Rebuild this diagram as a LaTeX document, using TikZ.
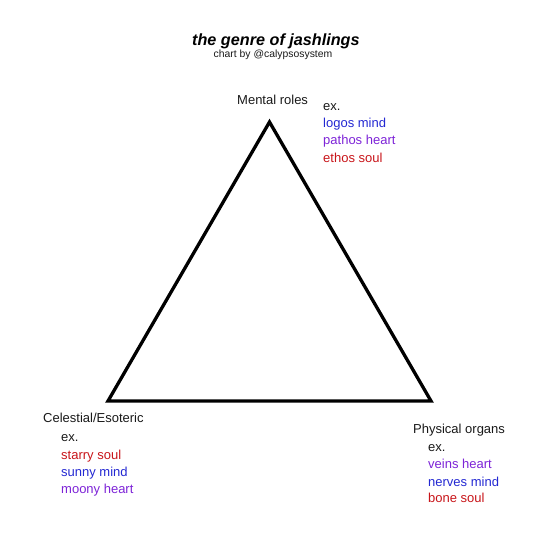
\documentclass[tikz,border=0pt]{standalone}
\usepackage{fontspec}
\setmainfont{Liberation Sans}
\definecolor{cblue}{RGB}{35,40,210}
\definecolor{cpurple}{RGB}{125,35,215}
\definecolor{cred}{RGB}{200,20,25}
\definecolor{ctext}{RGB}{25,25,25}
\tikzset{
  lbl/.style={anchor=base west,inner sep=0pt,font=\fontsize{13}{15}\selectfont,text=ctext},
  item/.style={lbl},
  tri/.style={line width=3.3pt,line join=miter,draw=black}
}
\begin{document}
\begin{tikzpicture}[x=1pt,y=-1pt]
\useasboundingbox (0,0) rectangle (540,540);
% title
\node[anchor=base west,inner sep=0pt,font=\fontsize{16.2}{18}\selectfont\bfseries\itshape] (title) at (192,45.5) {the genre of jashlings};
\node[anchor=base west,inner sep=0pt,font=\fontsize{10.4}{12}\selectfont,text=ctext] (sub) at (213.5,57.3) {chart by @calypsosystem};
% triangle
\coordinate (A) at (269.5,122);
\coordinate (B) at (108,401);
\coordinate (C) at (431,401);
\draw[tri] (A) -- (B) -- (C) -- cycle;
% top labels
\node[lbl] (mental) at (237,105) {Mental roles};
\node[item] (ex1) at (323,110.7) {ex.};
\node[item,text=cblue] (logos) at (323,127.7) {logos mind};
\node[item,text=cpurple] (pathos) at (323,145) {pathos heart};
\node[item,text=cred] (ethos) at (323,162) {ethos soul};
% bottom-left labels
\node[lbl] (celestial) at (43,422.7) {Celestial/Esoteric};
\node[item] (ex2) at (61,441.7) {ex.};
\node[item,text=cred] (starry) at (61,459) {starry soul};
\node[item,text=cblue] (sunny) at (61,476.5) {sunny mind};
\node[item,text=cpurple] (moony) at (61,493.5) {moony heart};
% bottom-right labels
\node[lbl] (physical) at (413,433.3) {Physical organs};
\node[item] (ex3) at (428,451.7) {ex.};
\node[item,text=cpurple] (veins) at (428,468.5) {veins heart};
\node[item,text=cblue] (nerves) at (428,486) {nerves mind};
\node[item,text=cred] (bone) at (428,502.7) {bone soul};
\end{tikzpicture}
\end{document}
